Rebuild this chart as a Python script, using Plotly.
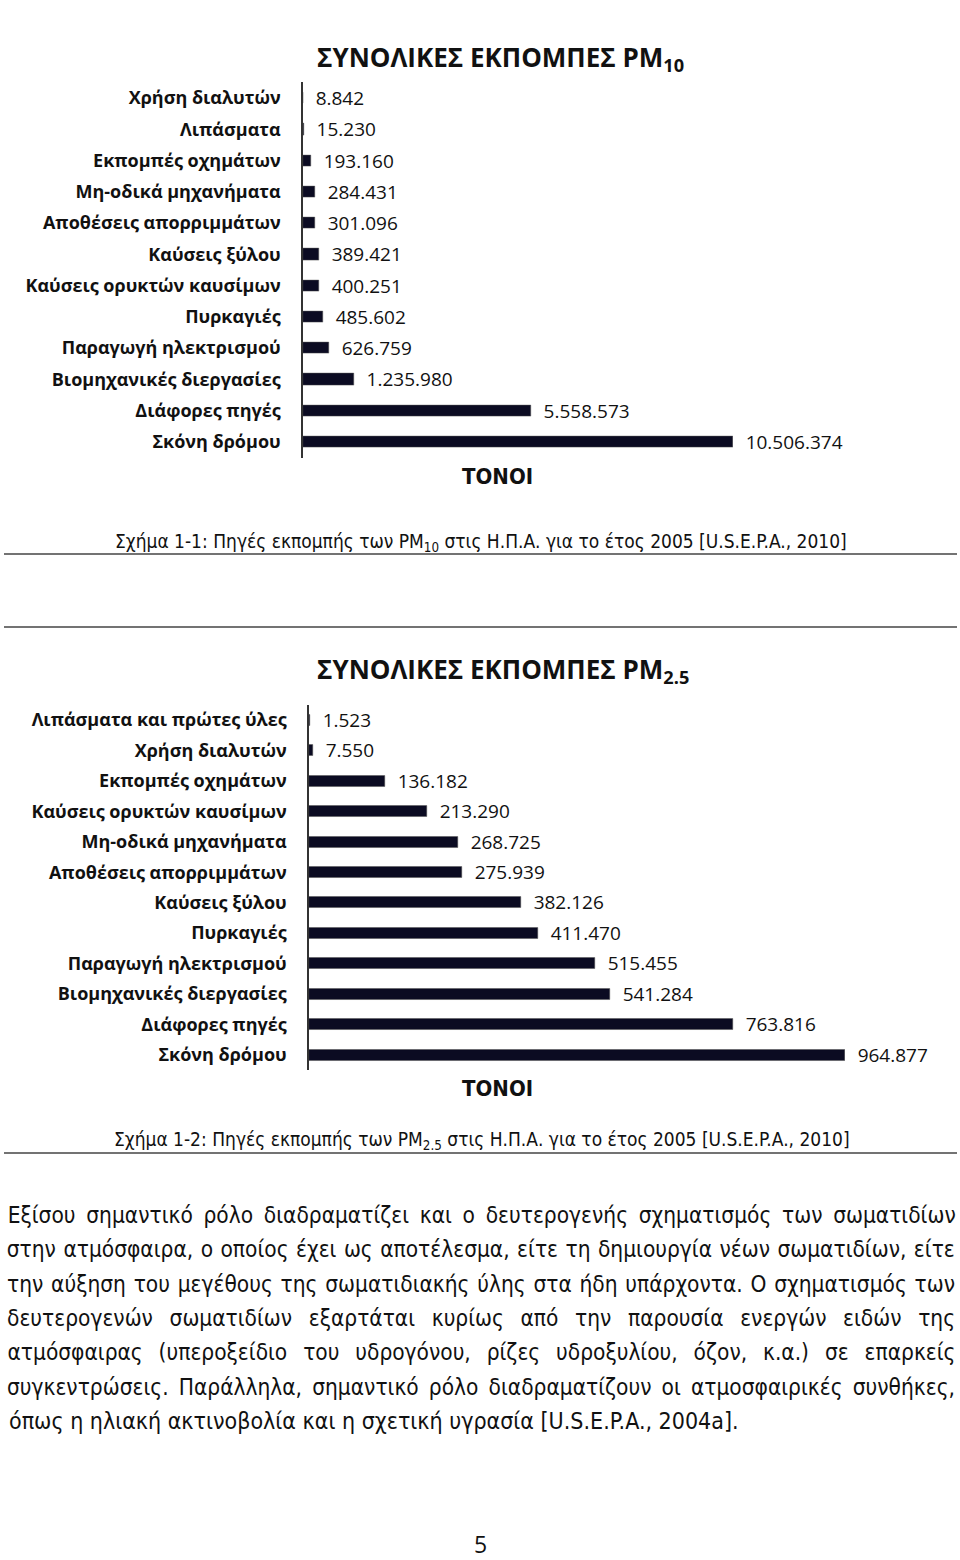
import json
import plotly.graph_objects as go

W, H = 960, 1560

# ---------------- data ----------------
pm10_categories = ["Χρήση διαλυτών", "Λιπάσματα", "Εκπομπές οχημάτων", "Μη-οδικά μηχανήματα",
                   "Αποθέσεις απορριμμάτων", "Καύσεις ξύλου", "Καύσεις ορυκτών καυσίμων",
                   "Πυρκαγιές", "Παραγωγή ηλεκτρισμού", "Βιομηχανικές διεργασίες",
                   "Διάφορες πηγές", "Σκόνη δρόμου"]
pm10_values = [8842, 15230, 193160, 284431, 301096, 389421, 400251, 485602, 626759,
               1235980, 5558573, 10506374]

pm25_categories = ["Λιπάσματα και πρώτες ύλες", "Χρήση διαλυτών", "Εκπομπές οχημάτων",
                   "Καύσεις ορυκτών καυσίμων", "Μη-οδικά μηχανήματα", "Αποθέσεις απορριμμάτων",
                   "Καύσεις ξύλου", "Πυρκαγιές", "Παραγωγή ηλεκτρισμού", "Βιομηχανικές διεργασίες",
                   "Διάφορες πηγές", "Σκόνη δρόμου"]
pm25_values = [1523, 7550, 136182, 213290, 268725, 275939, 382126, 411470, 515455, 541284,
               763816, 964877]

title1 = "<b>ΣΥΝΟΛΙΚΕΣ ΕΚΠΟΜΠΕΣ PM<sub>10</sub></b>"
title2 = "<b>ΣΥΝΟΛΙΚΕΣ ΕΚΠΟΜΠΕΣ PM<sub>2.5</sub></b>"
axis_title = "<b>ΤΟΝΟΙ</b>"
caption1 = "Σχήμα 1-1: Πηγές εκπομπής των PM<sub>10</sub> στις Η.Π.Α. για το έτος 2005 [U.S.E.P.A., 2010]"
caption2 = "Σχήμα 1-2: Πηγές εκπομπής των PM<sub>2.5</sub> στις Η.Π.Α. για το έτος 2005 [U.S.E.P.A., 2010]"
paragraph = [
    "Εξίσου σημαντικό ρόλο διαδραματίζει και ο δευτερογενής σχηματισμός των σωματιδίων",
    "στην ατμόσφαιρα, ο οποίος έχει ως αποτέλεσμα, είτε τη δημιουργία νέων σωματιδίων, είτε",
    "την αύξηση του μεγέθους της σωματιδιακής ύλης στα ήδη υπάρχοντα. Ο σχηματισμός των",
    "δευτερογενών σωματιδίων εξαρτάται κυρίως από την παρουσία ενεργών ειδών της",
    "ατμόσφαιρας (υπεροξείδιο του υδρογόνου, ρίζες υδροξυλίου, όζον, κ.α.) σε επαρκείς",
    "συγκεντρώσεις. Παράλληλα, σημαντικό ρόλο διαδραματίζουν οι ατμοσφαιρικές συνθήκες,",
    "όπως η ηλιακή ακτινοβολία και η σχετική υγρασία [U.S.E.P.A., 2004a].",
]
page_number = "5"

BAR = "#0b0b22"
LABEL_FONT = "Open Sans"
TEXT_FONT = "DejaVu Sans Condensed, DejaVu Sans"
PARA_LEFT, PARA_RIGHT = 7, 955


def fmt(v):
    return "\u00a0\u00a0" + f"{v:,}".replace(",", ".")


def px(x):
    return x / W


def py(y):
    return 1 - y / H


fig = go.Figure()

fig.add_trace(go.Bar(
    orientation="h", x=pm10_values, y=pm10_categories,
    marker=dict(color=BAR, line=dict(color="#555", width=0.5)), width=0.36,
    text=[fmt(v) for v in pm10_values], textposition="outside", constraintext="none",
    cliponaxis=False, textfont=dict(family=LABEL_FONT, size=19, color="#111"),
    xaxis="x", yaxis="y", showlegend=False, hoverinfo="skip"))

fig.add_trace(go.Bar(
    orientation="h", x=pm25_values, y=pm25_categories,
    marker=dict(color=BAR, line=dict(color="#555", width=0.5)), width=0.36,
    text=[fmt(v) for v in pm25_values], textposition="outside", constraintext="none",
    cliponaxis=False, textfont=dict(family=LABEL_FONT, size=19, color="#111"),
    xaxis="x2", yaxis="y2", showlegend=False, hoverinfo="skip"))

sp1 = (442 - 98) / 11
sp2 = (1055 - 720) / 11
ycat = dict(type="category", showgrid=False, zeroline=False, showline=True,
            linecolor="#333", linewidth=1.5, ticks="", ticklabelstandoff=17,
            tickfont=dict(family=LABEL_FONT, size=18, color="#111", weight="bold"))

fig.update_layout(
    width=W, height=H, margin=dict(l=0, r=0, t=0, b=0),
    paper_bgcolor="white", plot_bgcolor="white", bargap=0,
    xaxis=dict(domain=[px(303), px(733)], range=[0, max(pm10_values)], visible=False,
               anchor="y"),
    yaxis=dict(domain=[py(442 + sp1 / 2), py(98 - sp1 / 2)], range=[11.5, -0.5],
               anchor="x", **ycat),
    xaxis2=dict(domain=[px(309), px(845)], range=[0, max(pm25_values)], visible=False,
                anchor="y2"),
    yaxis2=dict(domain=[py(1055 + sp2 / 2), py(720 - sp2 / 2)], range=[11.5, -0.5],
                anchor="x2", **ycat),
)

ann = []
ann.append(dict(text=title1, x=px(500), y=py(58), font=dict(family=LABEL_FONT, size=26, color="#111")))
ann.append(dict(text=title2, x=px(503), y=py(670), font=dict(family=LABEL_FONT, size=26, color="#111")))
ann.append(dict(text=axis_title, x=px(497), y=py(476), font=dict(family=TEXT_FONT, size=22, color="#111")))
ann.append(dict(text=axis_title, x=px(497), y=py(1088), font=dict(family=TEXT_FONT, size=22, color="#111")))
ann.append(dict(text=caption1, x=px(113), y=py(542), xanchor="left",
                font=dict(family=TEXT_FONT, size=19, color="#111")))
ann.append(dict(text=caption2, x=px(112), y=py(1140), xanchor="left",
                font=dict(family=TEXT_FONT, size=19, color="#111")))
line_y0, line_dy = 1215, (1421 - 1215) / 6
for i, line in enumerate(paragraph):
    last = i == len(paragraph) - 1
    ann.append(dict(text=line,
                    x=px(PARA_LEFT) if last else px((PARA_LEFT + PARA_RIGHT) / 2),
                    xanchor="left" if last else "center",
                    y=py(line_y0 + i * line_dy),
                    font=dict(family=TEXT_FONT, size=23 if last else 22.5, color="#111")))
ann.append(dict(text=page_number, x=px(480), y=py(1544), borderpad=0,
                font=dict(family=LABEL_FONT, size=23, color="#111")))

for a in ann:
    a.setdefault("xanchor", "center")
    a.update(xref="paper", yref="paper", yanchor="middle", showarrow=False)
fig.update_layout(annotations=ann)

shapes = []
for yy in (554, 627, 1153):
    shapes.append(dict(type="line", xref="paper", yref="paper", x0=px(4), x1=px(957),
                       y0=py(yy), y1=py(yy), line=dict(color="#444", width=1.5)))
fig.update_layout(shapes=shapes)

# page setup: no body margin; justify paragraph lines (except the last) via word spacing
post = """
document.body.style.margin = '0';
document.body.style.overflow = 'hidden';
var JUST = %s;
var TARGET = %d;
var gd = document.getElementById('{plot_id}');
gd.querySelectorAll('.annotation-text').forEach(function (t) {
  var s = t.textContent;
  if (JUST.indexOf(s) >= 0) {
    var w = t.getComputedTextLength();
    var n = (s.match(/ /g) || []).length;
    if (n > 0 && TARGET > w) { t.style.wordSpacing = ((TARGET - w) / n) + 'px'; }
  }
});
""" % (json.dumps(paragraph[:-1], ensure_ascii=False), PARA_RIGHT - PARA_LEFT)

fig.write_html("out.html", post_script=post, config={"displayModeBar": False})
